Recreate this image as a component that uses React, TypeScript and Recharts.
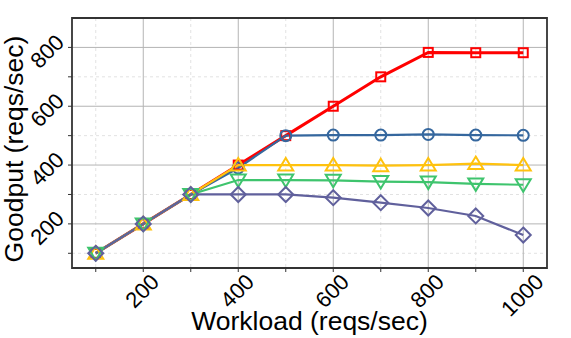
import React from "react";
import {
  LineChart,
  Line,
  XAxis,
  YAxis,
  CartesianGrid,
  ReferenceArea,
  Label,
} from "recharts";

const workload = [100, 200, 300, 400, 500, 600, 700, 800, 900, 1000];
const redSeries = [100, 200, 300, 400, 500, 600, 700, 783, 782, 782];
const blueSeries = [100, 200, 300, 390, 500, 502, 502, 504, 502, 501];
const yellowSeries = [100, 200, 300, 400, 400, 400, 398, 400, 405, 400];
const greenSeries = [100, 200, 300, 349, 349, 348, 344, 342, 336, 333];
const purpleSeries = [100, 200, 300, 300, 300, 289, 272, 254, 227, 162];

const xTicks = [100, 200, 300, 400, 500, 600, 700, 800, 900, 1000];
const xMajor = [200, 400, 600, 800, 1000];
const xMinor = [100, 300, 500, 700, 900];
const yTicks = [100, 200, 300, 400, 500, 600, 700, 800];
const yMajor = [200, 400, 600, 800];
const yMinor = [100, 300, 500, 700];

const data = workload.map((w, i) => ({
  w,
  red: redSeries[i],
  blue: blueSeries[i],
  yellow: yellowSeries[i],
  green: greenSeries[i],
  purple: purpleSeries[i],
}));

const FONT = "'Liberation Sans', Arial, sans-serif";
const TICK_FS = 22;
const LABEL_FS = 26.5;

// size of the ink box of a 45deg rotated number
function rotBox(label: string) {
  const w = label.length * 0.556 * TICK_FS - 0.08 * TICK_FS;
  const h = 0.716 * TICK_FS;
  return (w + h) * 0.7071;
}

const XTick = (props: any) => {
  const { x, y, payload } = props;
  const v = payload.value;
  if (v % 200 !== 0) return <g />;
  const label = String(v);
  const s = rotBox(label);
  const cx = x - 1;
  const cy = y + s / 2;
  return (
    <text
      x={cx}
      y={cy}
      textAnchor="middle"
      dominantBaseline="central"
      fontSize={TICK_FS}
      fontFamily={FONT}
      fill="#000"
      transform={`rotate(-45, ${cx}, ${cy})`}
    >
      {label}
    </text>
  );
};

const YTick = (props: any) => {
  const { x, y, payload } = props;
  const v = payload.value;
  if (v % 200 !== 0) return <g />;
  const label = String(v);
  const s = rotBox(label);
  const cx = x - s / 2;
  const cy = y + 4;
  return (
    <text
      x={cx}
      y={cy}
      textAnchor="middle"
      dominantBaseline="central"
      fontSize={TICK_FS}
      fontFamily={FONT}
      fill="#000"
      transform={`rotate(-45, ${cx}, ${cy})`}
    >
      {label}
    </text>
  );
};

const SquareDot = (p: any) => (
  <rect x={p.cx - 4.5} y={p.cy - 4.5} width={9} height={9} fill="none" stroke={p.stroke} strokeWidth={2} />
);
const CircleDot = (p: any) => (
  <circle cx={p.cx} cy={p.cy} r={5.5} fill="none" stroke={p.stroke} strokeWidth={2} />
);
const TriUpDot = (p: any) => (
  <path
    d={`M${p.cx},${p.cy - 7} L${p.cx + 7.5},${p.cy + 5.5} L${p.cx - 7.5},${p.cy + 5.5} Z`}
    fill="none"
    stroke={p.stroke}
    strokeWidth={2}
  />
);
const TriDownDot = (p: any) => (
  <path
    d={`M${p.cx},${p.cy + 7} L${p.cx + 7.5},${p.cy - 5.5} L${p.cx - 7.5},${p.cy - 5.5} Z`}
    fill="none"
    stroke={p.stroke}
    strokeWidth={2}
  />
);
const DiamondDot = (p: any) => (
  <path
    d={`M${p.cx},${p.cy - 7.5} L${p.cx + 7.5},${p.cy} L${p.cx},${p.cy + 7.5} L${p.cx - 7.5},${p.cy} Z`}
    fill="none"
    stroke={p.stroke}
    strokeWidth={2}
  />
);

export default function App() {
  return (
    <div style={{ position: "fixed", left: 0, top: 0, background: "#fff" }}>
      <LineChart
        width={571}
        height={338}
        data={data}
        margin={{ top: 18, right: 24, bottom: 0, left: 0 }}
      >
        <CartesianGrid
          horizontalValues={yMinor}
          verticalValues={xMinor}
          stroke="#e2e2e2"
          strokeDasharray="3 3"
        />
        <CartesianGrid
          horizontalValues={yMajor}
          verticalValues={xMajor}
          stroke="#b4b4b4"
          strokeWidth={1}
        />
        <XAxis
          dataKey="w"
          type="number"
          domain={[50, 1050]}
          ticks={xTicks}
          interval={0}
          height={70}
          tickSize={4}
          tickMargin={1}
          tickLine={{ stroke: "#333" }}
          axisLine={false}
          tick={<XTick />}
        >
          <Label
            content={(lp: any) => {
              const vb = lp.viewBox;
              return (
                <text
                  x={vb.x + vb.width / 2}
                  y={330}
                  textAnchor="middle"
                  fontSize={LABEL_FS}
                  fontFamily={FONT}
                  fill="#000"
                >
                  Workload (reqs/sec)
                </text>
              );
            }}
          />
        </XAxis>
        <YAxis
          type="number"
          domain={[50, 900]}
          ticks={yTicks}
          interval={0}
          width={72}
          tickSize={4}
          tickMargin={3}
          tickLine={{ stroke: "#333" }}
          axisLine={false}
          tick={<YTick />}
        >
          <Label
            content={(lp: any) => {
              const vb = lp.viewBox;
              const cx = 14;
              const cy = vb.y + vb.height / 2 + 6;
              return (
                <text
                  x={cx}
                  y={cy}
                  textAnchor="middle"
                  dominantBaseline="central"
                  fontSize={LABEL_FS}
                  fontFamily={FONT}
                  fill="#000"
                  transform={`rotate(-90, ${cx}, ${cy})`}
                >
                  Goodput (reqs/sec)
                </text>
              );
            }}
          />
        </YAxis>
        <Line
          dataKey="red"
          stroke="#ff0000"
          strokeWidth={3}
          dot={<SquareDot />}
          activeDot={false}
          isAnimationActive={false}
        />
        <Line
          dataKey="blue"
          stroke="#35679e"
          strokeWidth={2.2}
          dot={<CircleDot />}
          activeDot={false}
          isAnimationActive={false}
        />
        <Line
          dataKey="yellow"
          stroke="#ffc20e"
          strokeWidth={2.2}
          dot={<TriUpDot />}
          activeDot={false}
          isAnimationActive={false}
        />
        <Line
          dataKey="green"
          stroke="#3ec46d"
          strokeWidth={2.2}
          dot={<TriDownDot />}
          activeDot={false}
          isAnimationActive={false}
        />
        <Line
          dataKey="purple"
          stroke="#60609c"
          strokeWidth={2.2}
          dot={<DiamondDot />}
          activeDot={false}
          isAnimationActive={false}
        />
        <ReferenceArea
          x1={50}
          x2={1050}
          y1={50}
          y2={900}
          fill="none"
          stroke="#333"
          strokeWidth={1.8}
          fillOpacity={0}
          ifOverflow="extendDomain"
        />
      </LineChart>
    </div>
  );
}
